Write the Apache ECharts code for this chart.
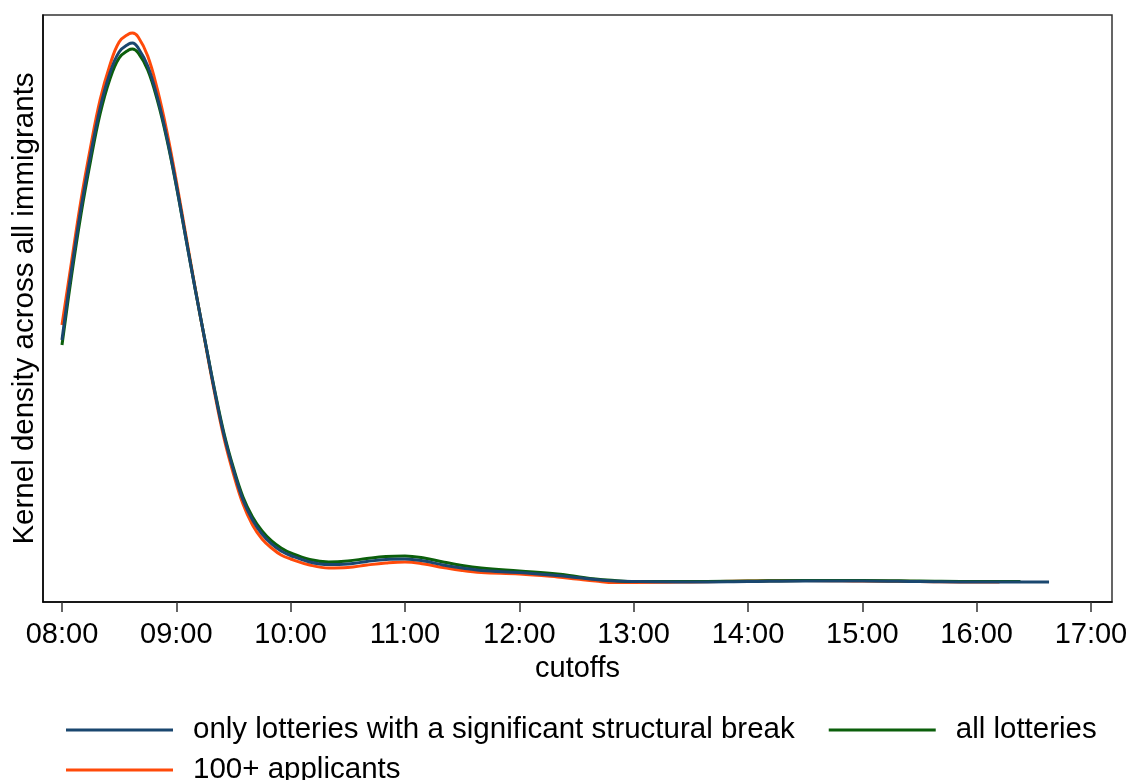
<!DOCTYPE html>
<html>
<head>
<meta charset="utf-8">
<script src="https://cdn.jsdelivr.net/npm/echarts@6/dist/echarts.min.js"></script>
<style>
html,body{margin:0;padding:0;background:#fff;}
#chart{width:1135px;height:780px;}
</style>
</head>
<body>
<div id="chart"></div>
<script>
// Data
const times = ["08:00","08:05","08:10","08:15","08:20","08:25","08:30","08:35","08:37","08:40",
  "08:45","08:50","08:55","09:00","09:05","09:10","09:15","09:20","09:25","09:30",
  "09:35","09:40","09:45","09:50","09:55","10:00","10:10","10:20","10:30","10:40",
  "10:50","11:00","11:10","11:20","11:30","11:40","12:00","12:20","12:30","12:40",
  "12:50","13:00","13:30","14:00","14:30","15:00","15:30","16:00","16:12","16:23","16:38"];

const breakOnly = [0.5063,0.6521,0.7813,0.8917,0.9896,1.0604,1.1063,1.1229,1.1250,1.1146,
  1.0771,1.0125,0.9292,0.8292,0.7188,0.6104,0.5063,0.4021,0.3083,0.2354,
  0.1729,0.1313,0.1021,0.0813,0.0667,0.0573,0.0438,0.0385,0.0396,0.0448,
  0.0490,0.0500,0.0458,0.0375,0.0313,0.0260,0.0219,0.0156,0.0115,0.0073,
  0.0042,0.0031,0.0021,0.0031,0.0042,0.0042,0.0031,0.0021,0.0021,0.0021,0.0021];

const allLotteries = [0.4958,0.6396,0.7688,0.8792,0.9771,1.0479,1.0938,1.1104,1.1125,1.1042,
  1.0688,1.0063,0.9250,0.8271,0.7188,0.6104,0.5063,0.4042,0.3125,0.2396,
  0.1792,0.1375,0.1083,0.0875,0.0729,0.0625,0.0490,0.0438,0.0458,0.0510,
  0.0552,0.0563,0.0521,0.0438,0.0365,0.0313,0.0250,0.0188,0.0135,0.0083,
  0.0052,0.0031,0.0031,0.0042,0.0052,0.0052,0.0042,0.0031,0.0031,0.0031,null];

const applicants100 = [0.5375,0.6688,0.7979,0.9083,1.0063,1.0771,1.1271,1.1438,1.1458,1.1375,
  1.0979,1.0292,0.9417,0.8375,0.7250,0.6125,0.5042,0.3979,0.3021,0.2271,
  0.1646,0.1208,0.0917,0.0729,0.0583,0.0500,0.0375,0.0313,0.0323,0.0375,
  0.0417,0.0438,0.0396,0.0323,0.0260,0.0219,0.0188,0.0125,0.0083,0.0042,
  0.0010,0.0010,0.0021,0.0042,0.0052,0.0042,0.0031,0.0021,0.0021,null,null];

const tickLabels = ["08:00","09:00","10:00","11:00","12:00","13:00","14:00","15:00","16:00","17:00"];

const seriesNames = ["only lotteries with a significant structural break","all lotteries","100+ applicants"];
const seriesColors = ["#1a476f","#0b5f0b","#ff4a0a"];

function toHours(s){ const p = s.split(":"); return +p[0] + (+p[1])/60; }
function pairs(vals){ return times.map((t,i)=>[toHours(t), vals[i]]); }

const tickValues = tickLabels.map(toHours);
const FONT = "'Liberation Sans', Arial, Helvetica, sans-serif";

const chart = echarts.init(document.getElementById('chart'), null, {renderer:'canvas'});

function lineSeries(idx, vals){
  return {
    name: seriesNames[idx], type:'line', data: pairs(vals), showSymbol:false, smooth:0.4,
    connectNulls:false,
    lineStyle:{color:seriesColors[idx], width:3}, itemStyle:{color:seriesColors[idx]},
    emphasis:{disabled:true}
  };
}

const legendText = {fontSize:29.5, color:'#000', fontFamily:FONT, padding:[0,0,0,15]};

chart.setOption({
  animation:false,
  backgroundColor:'#fff',
  textStyle:{fontFamily:FONT},
  grid:{left:43, right:23, top:15, bottom:178, show:true, borderColor:'#333', borderWidth:1.5, backgroundColor:'transparent'},
  xAxis:{
    type:'value', min:7.834, max:17.184,
    splitLine:{show:false},
    axisLine:{show:true, onZero:false, lineStyle:{color:'#000', width:1.5}},
    axisTick:{show:true, customValues:tickValues, length:10, lineStyle:{color:'#333', width:1.5}},
    axisLabel:{customValues:tickValues, fontSize:29, color:'#000', fontFamily:FONT, margin:18,
      formatter:(v)=>{ const i = tickValues.findIndex(t=>Math.abs(t-v)<1e-6); return i>=0 ? tickLabels[i] : ''; }},
    name:'cutoffs', nameLocation:'middle', nameGap:52,
    nameTextStyle:{fontSize:29, color:'#000', fontFamily:FONT}
  },
  yAxis:{
    type:'value', min:-0.0396, max:1.1833,
    splitLine:{show:false},
    axisLine:{show:true, onZero:false, lineStyle:{color:'#000', width:1.5}},
    axisTick:{show:false}, axisLabel:{show:false},
    name:'Kernel density across all immigrants', nameLocation:'middle', nameGap:3, nameRotate:90,
    nameTextStyle:{fontSize:29.5, color:'#000', fontFamily:FONT}
  },
  legend:[
    {data:[seriesNames[0], seriesNames[1]], left:61, top:710, orient:'horizontal', icon:'rect', itemWidth:107, itemHeight:3, itemGap:34,
     textStyle:legendText, selectedMode:false},
    {data:[seriesNames[2]], left:61, top:750, orient:'horizontal', icon:'rect', itemWidth:107, itemHeight:3,
     textStyle:legendText, selectedMode:false}
  ],
  series:[
    lineSeries(2, applicants100),
    lineSeries(1, allLotteries),
    lineSeries(0, breakOnly)
  ]
});
</script>
</body>
</html>
